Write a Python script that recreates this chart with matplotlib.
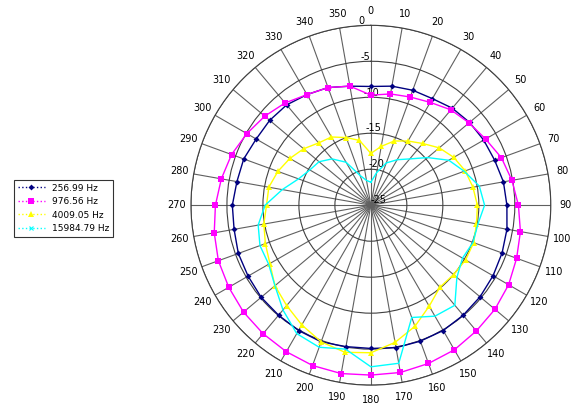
import numpy as np
import matplotlib.pyplot as plt

angles = list(range(0, 360, 10))

hz_257 = [-8.5, -8.2, -8.0, -7.9, -7.4, -7.1, -6.9, -6.7, -6.3, -6.1, -5.8, -5.6,
          -5.4, -5.2, -5.05, -4.9, -4.9, -4.9, -5.1, -5.05, -4.8, -4.9, -5.05, -5.1,
          -5.3, -5.4, -5.7, -5.75, -6.1, -6.2, -6.6, -6.65, -6.8, -7.25, -7.6, -8.2]
hz_977 = [-9.7, -9.3, -9.0, -8.5, -7.7, -7.2, -6.6, -5.7, -5.1, -4.5, -3.9, -3.45,
          -2.9, -2.5, -2.2, -1.8, -1.6, -1.4, -1.4, -1.25, -1.3, -1.5, -1.7, -1.9,
          -2.2, -2.45, -2.9, -3.4, -3.9, -4.4, -5.1, -5.75, -6.45, -7.25, -7.6, -8.2]
hz_4009 = [-17.8, -16.7, -15.5, -14.7, -13.8, -12.6, -11.7, -11.05, -10.6, -10.2, -10.1, -9.8,
           -9.8, -10.0, -10.1, -8.8, -7.1, -5.65, -4.5, -4.25, -4.8, -5.8, -6.8, -7.6,
           -8.8, -9.4, -9.9, -10.5, -10.6, -11.25, -12.0, -12.8, -13.7, -14.05, -15.0, -15.85]
hz_15985 = [-21.8, -20.4, -18.75, -17.7, -16.6, -14.7, -12.5, -11.2, -9.7, -9.2, -9.9, -9.9,
            -10.3, -9.4, -6.85, -7.2, -8.4, -2.7, -2.55, -4.7, -4.0, -4.4, -6.0, -7.6,
            -8.6, -8.6, -9.1, -10.3, -12.5, -14.3, -15.2, -15.6, -16.6, -18.1, -20.6, -21.5]

series = [
    ("256.99 Hz", hz_257, "#000080", "D", 3),
    ("976.56 Hz", hz_977, "#FF00FF", "s", 4),
    ("4009.05 Hz", hz_4009, "#FFFF00", "^", 5),
    ("15984.79 Hz", hz_15985, "#00FFFF", "x", 3),
]

fig = plt.figure(figsize=(5.75, 4.08), dpi=100)
ax = fig.add_axes([0.332, 0.056, 0.626, 0.882], projection="polar")
ax.set_theta_zero_location("N")
ax.set_theta_direction(-1)

th = np.deg2rad(angles + [angles[0]])
for label, vals, color, marker, ms in series:
    v = vals + [vals[0]]
    mew = 0.8 if marker == "x" else 0
    ax.plot(th, v, color=color, lw=1, marker=marker, markersize=ms,
            markeredgewidth=mew, markevery=list(range(36)) if marker != "x" else [],
            label=label)

ax.set_ylim(-25, 0)
ax.set_yticks([-25, -20, -15, -10, -5, 0])
ax.set_yticklabels(["-25", "-20", "-15", "-10", "-5", "0"], fontsize=7)
ax.set_rlabel_position(-4)
ax.set_xticks(np.deg2rad(angles))
ax.set_xticklabels([str(a) for a in angles], fontsize=7)
ax.tick_params(axis="x", pad=0)
ax.grid(True, color="#404040", lw=0.8)
ax.xaxis.grid(True, color="#606060", lw=0.8)
ax.spines["polar"].set_color("#404040")

leg = fig.legend(loc="upper left", bbox_to_anchor=(0.017, 0.57), fontsize=6.5,
                 frameon=True, fancybox=False, edgecolor="black",
                 handlelength=3, borderpad=0.4, labelspacing=0.5)
leg.get_frame().set_linewidth(0.8)
for h in leg.get_lines():
    h.set_linestyle(":")
    h.set_marker(h.get_marker())

fig.savefig("out.png", dpi=100)
